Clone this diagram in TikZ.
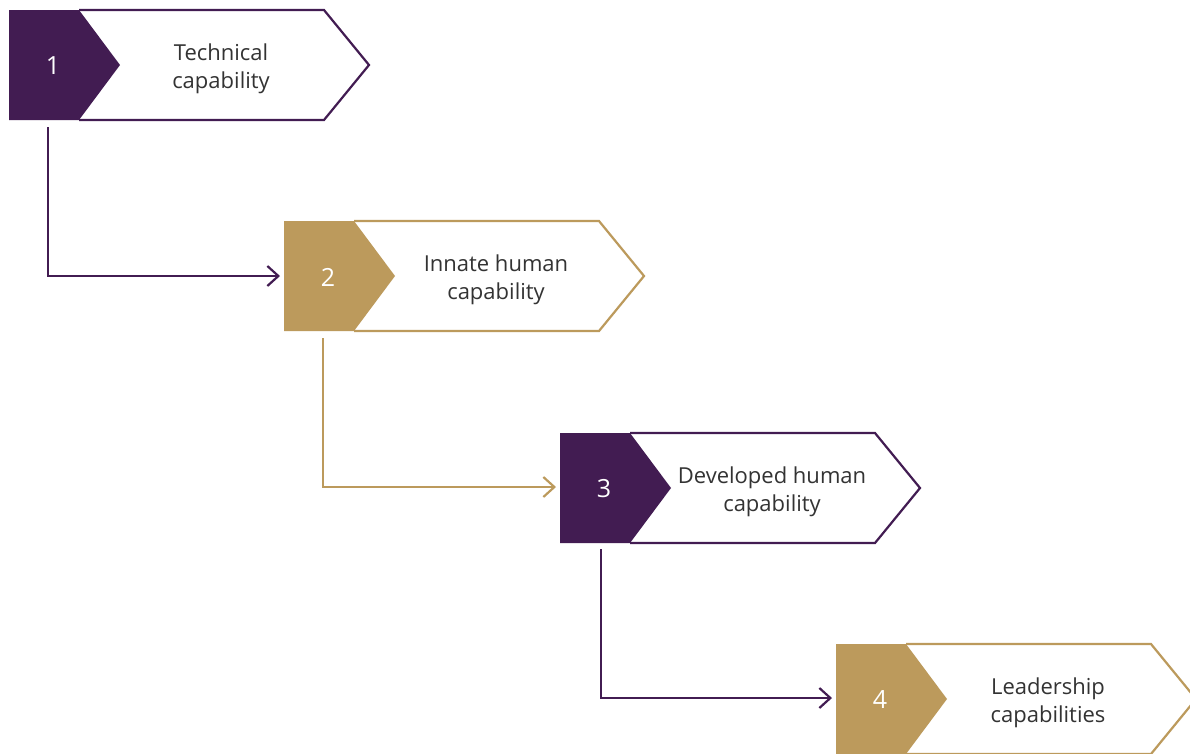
\documentclass[tikz,border=0pt]{standalone}
\usepackage{fontspec}
\setmainfont{Open Sans}
\usetikzlibrary{arrows.meta}
\definecolor{plum}{HTML}{421C52}
\definecolor{gold}{HTML}{BC9A5C}
\definecolor{txt}{HTML}{333333}
\tikzset{
  outline/.style={line width=2.2pt, fill=white, line join=miter},
  numtext/.style={text=white, font=\fontsize{25}{30}\selectfont, inner sep=0pt},
  labeltext/.style={text=txt, font=\fontsize{22}{28}\selectfont, align=center, inner sep=0pt},
  link/.style={line width=2.2pt, -{Straight Barb[length=11pt,width=20pt,line width=2.2pt]}},
}
\newcommand\chevronbox[6]{%
  \begin{scope}[shift={(#1,#2)}]
    \draw[outline, draw=#3] (70,0) -- (315,0) -- (360,55) -- (315,110) -- (70,110);
    \fill[#3] (0,0) -- (70,0) -- (111,55) -- (70,110) -- (0,110) -- cycle;
    \node[numtext] (n#6) at (44,56) {#4};
    \node[labeltext] (t#6) at (212,59) {#5};
  \end{scope}}
\begin{document}
\begin{tikzpicture}[x=1pt,y=-1pt]
  \clip (0,0) rectangle (1190,753);
  \fill[white] (0,0) rectangle (1190,753);
  \chevronbox{9}{10}{plum}{1}{Technical\\capability}{1}
  \chevronbox{284}{221}{gold}{2}{Innate human\\capability}{2}
  \chevronbox{560}{433}{plum}{3}{Developed human\\capability}{3}
  \chevronbox{836}{644}{gold}{4}{Leadership\\capabilities}{4}
  \coordinate (b1) at (48,127);
  \coordinate (a2) at (280,276);
  \coordinate (b2) at (323,338);
  \coordinate (a3) at (556,487);
  \coordinate (b3) at (601,549);
  \coordinate (a4) at (832,698);
  \draw[link, plum] (b1) |- (a2);
  \draw[link, gold] (b2) |- (a3);
  \draw[link, plum] (b3) |- (a4);
\end{tikzpicture}
\end{document}
